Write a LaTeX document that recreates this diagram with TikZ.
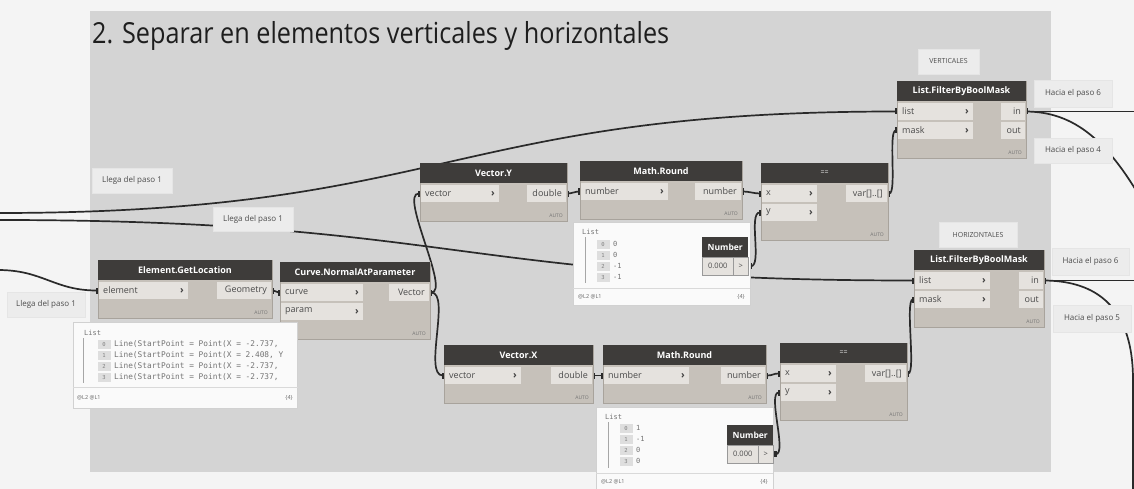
\documentclass[tikz,border=0pt]{standalone}
\usepackage{fontspec}
\setmainfont{Open Sans}
\newfontfamily\titlef[FakeStretch=0.87]{Open Sans}
\newfontfamily\monof{DejaVu Sans Mono}
\usetikzlibrary{arrows.meta}
\definecolor{pagebg}{HTML}{F4F4F4}
\definecolor{groupbg}{HTML}{D4D4D4}
\definecolor{headbg}{HTML}{3E3C3A}
\definecolor{bodybg}{HTML}{C6C1BA}
\definecolor{bodyline}{HTML}{A8A39C}
\definecolor{cellbg}{HTML}{E5E2DE}
\definecolor{notebg}{HTML}{ECECEC}
\definecolor{wirec}{HTML}{2A2A2A}
\definecolor{txt}{HTML}{4A4A4A}
\definecolor{titlec}{HTML}{1E1E1E}
\pgfdeclarelayer{bg}
\pgfdeclarelayer{wires}
\pgfsetlayers{bg,wires,main}
\tikzset{
  dbody/.style={fill=bodybg, draw=bodyline, line width=0.8pt, inner sep=0pt, outer sep=0pt},
  dhead/.style={fill=headbg, text=white, font=\bfseries\fontsize{9}{10}\selectfont, inner sep=0pt, outer sep=0pt, minimum height=20pt},
  pcell/.style={fill=cellbg, inner sep=0pt, outer sep=0pt, minimum height=17pt},
  ptxt/.style={font=\fontsize{9}{10}\selectfont, text=txt, inner xsep=4pt, inner ysep=0pt},
  chev/.style={font=\bfseries\fontsize{10}{10}\selectfont, text=black!75, inner xsep=4pt, inner ysep=0pt},
  autotxt/.style={font=\fontsize{5}{5}\selectfont, text=black!55, inner sep=0pt},
  wire/.style={draw=wirec, line width=1.7pt},
  tabs/.style={{Rectangle[length=3pt,width=6pt]}-{Rectangle[length=3pt,width=6pt]}},
  tabend/.style={-{Rectangle[length=3pt,width=6pt]}},
  tabstart/.style={{Rectangle[length=3pt,width=6pt]}-},
  note/.style={fill=notebg, draw=black!10, inner sep=0pt, font=\fontsize{8}{9}\selectfont, text=black!70},
  prev/.style={fill=white!98!black, draw=black!18, line width=0.5pt, inner sep=0pt},
  pidx/.style={fill=black!13, font=\monof\fontsize{5.5}{6}\selectfont, text=black!50, minimum width=13pt, minimum height=9pt, inner sep=0pt},
  pval/.style={font=\monof\fontsize{7}{8}\selectfont, text=black!55, inner sep=0pt},
  pfoot/.style={font=\fontsize{5.5}{6}\selectfont, text=black!60, inner sep=0pt},
  numhead/.style={fill=headbg, text=white, font=\bfseries\fontsize{8.5}{9}\selectfont, inner sep=0pt, minimum height=20pt},
  numval/.style={fill=cellbg, draw=black!40, line width=0.5pt, font=\fontsize{7.5}{8}\selectfont, text=txt, inner sep=0pt, minimum height=18pt},
}
% #1 name #2 x #3 y #4 width #5 in-cell width #6 out-cell width #7 title #8 inputs #9 outputs
\newcommand{\dyn}[9]{%
  \foreach \q [count=\n] in {#8} {\xdef\dynrows{\n}}%
  \pgfmathsetmacro{\dynh}{20+\dynrows*19+19}%
  \node[dbody, minimum width=#4pt, minimum height=\dynh pt, anchor=north west] (#1) at (#2,#3) {};
  \node[dhead, minimum width=#4pt, anchor=north west] (#1-h) at (#2,#3) {#7};
  \foreach \lab [count=\k from 0] in {#8} {%
    \node[pcell, minimum width=#5pt, anchor=north west] (#1-i\k) at (#2+1,#3+22+19*\k) {};
    \node[ptxt, anchor=west] (#1-il\k) at (#1-i\k.west) {\lab};
    \node[chev, anchor=east] (#1-ic\k) at (#1-i\k.east) {\char"203A};
  }
  \foreach \lab [count=\k from 0] in {#9} {%
    \node[pcell, minimum width=#6pt, anchor=north east] (#1-o\k) at (#2+#4-1,#3+22+19*\k) {};
    \node[ptxt, anchor=east] (#1-ol\k) at (#1-o\k.east) {\lab};
  }
  \node[autotxt, anchor=south east] (#1-auto) at ([xshift=-4pt,yshift=3pt]#1.south east) {AUTO};
}
\begin{document}
\begin{tikzpicture}[x=1pt,y=-1pt]
\useasboundingbox (0,0) rectangle (1134,489);
\clip (0,0) rectangle (1134,489);
\begin{pgfonlayer}{bg}
\fill[pagebg] (0,0) rectangle (1134,489);
\fill[groupbg] (90,11) rectangle (1051,472);
\end{pgfonlayer}
\node[anchor=base west, font=\titlef\fontsize{29}{32}\selectfont, text=titlec, inner sep=0pt] (title) at (92,44) {2. Separar en elementos verticales y horizontales};

% free ends
\coordinate (la) at (-2,213);
\coordinate (lb) at (-2,220);
\coordinate (lc) at (-2,270);
\coordinate (r1) at (1140,111.5);
\coordinate (r2) at (1150,215);
\coordinate (r3) at (1140,280.5);
\coordinate (r4) at (1133,495);

% Dynamo nodes
\dyn{eg}{98}{260}{174}{89}{54}{Element.GetLocation}{element}{Geometry}
\dyn{cn}{280}{262}{150}{82}{40}{Curve.NormalAtParameter}{curve,param}{Vector}
\dyn{vy}{420}{163}{147}{78}{39}{Vector.Y}{vector}{double}
\dyn{mr1}{580}{161}{162}{87}{46}{Math.Round}{number}{number}
\dyn{eq1}{761}{163}{127}{55}{41}{\mdseries\fontsize{7}{7}\selectfont ==}{x,y}{{var[]..[]}}
\dyn{fb1}{897}{81}{129}{75}{24}{List.FilterByBoolMask}{list,mask}{in,out}
\dyn{vx}{444}{345}{149}{76}{41}{Vector.X}{vector}{double}
\dyn{mr2}{603}{345}{163}{85}{44}{Math.Round}{number}{number}
\dyn{eq2}{780}{343}{127}{55}{41}{\mdseries\fontsize{7}{7}\selectfont ==}{x,y}{{var[]..[]}}
\dyn{fb2}{914}{250}{130}{75}{24}{List.FilterByBoolMask}{list,mask}{in,out}

% notes
\node[note, minimum width=80pt, minimum height=25pt] (n1) at (132,180.5) {Llega del paso 1};
\node[note, minimum width=80pt, minimum height=24pt] (n2) at (253,219) {Llega del paso 1};
\node[note, minimum width=78pt, minimum height=25pt] (n3) at (46,304.5) {Llega del paso 1};
\node[note, minimum width=61pt, minimum height=25pt, font=\fontsize{7}{8}\selectfont] (nv) at (948.5,61.5) {VERTICALES};
\node[note, minimum width=78pt, minimum height=25pt, font=\fontsize{7}{8}\selectfont] (nh) at (978,234.5) {HORIZONTALES};
\node[note, minimum width=78pt, minimum height=27pt] (h6a) at (1073,93.5) {Hacia el paso 6};
\node[note, minimum width=78pt, minimum height=25pt] (h4) at (1073,150.5) {Hacia el paso 4};
\node[note, minimum width=77pt, minimum height=27pt] (h6b) at (1090.5,261.5) {Hacia el paso 6};
\node[note, minimum width=78pt, minimum height=27pt] (h5) at (1092,318.5) {Hacia el paso 5};

% preview of Element.GetLocation
\node[prev, minimum width=224pt, minimum height=86pt, anchor=north west] (pv1) at (73,322) {};
\begin{scope}
\clip (73,322) rectangle (296,387);
\node[pval, anchor=west] (pv1-l) at (84,333) {List};
\draw[black!35, line width=0.5pt] (83,338) -- (83,383);
\foreach \t [count=\k from 0] in {{Line(StartPoint = Point(X = -2.737,},{Line(StartPoint = Point(X = 2.408, Y},{Line(StartPoint = Point(X = -2.737,},{Line(StartPoint = Point(X = -2.737,}} {
  \node[pidx] (pv1-i\k) at (104,344+11*\k) {\k};
  \node[pval, anchor=west, font=\monof\fontsize{7.8}{8}\selectfont] (pv1-v\k) at (114,344+11*\k) {\t};
}
\end{scope}
\draw[black!15, line width=0.5pt] (pv1.west |- 0,387) -- (pv1.east |- 0,387);
\node[pfoot, anchor=west] (pv1-f) at (77,398) {@L2 @L1};
\node[pfoot, anchor=east] (pv1-c) at (293,398) {\{4\}};

% preview of top Math.Round
\node[prev, minimum width=177pt, minimum height=83pt, anchor=north west] (pv2) at (573,222) {};
\node[pval, anchor=west] (pv2-l) at (582,232) {List};
\draw[black!35, line width=0.5pt] (585,237) -- (585,283);
\foreach \v [count=\k from 0] in {0,0,-1,-1} {
  \node[pidx] (pv2-i\k) at (603,244+11*\k) {\k};
  \node[pval, anchor=west] (pv2-v\k) at (613,244+11*\k) {\v};
}
\draw[black!15, line width=0.5pt] (573,288) -- (750,288);
\node[pfoot, anchor=west] (pv2-f) at (578,297) {@L2 @L1};
\node[pfoot, anchor=east] (pv2-c) at (745,297) {\{4\}};

% preview of bottom Math.Round
\node[prev, minimum width=177pt, minimum height=90pt, anchor=north west] (pv3) at (596,407) {};
\node[pval, anchor=west] (pv3-l) at (605,417) {List};
\draw[black!35, line width=0.5pt] (608,422) -- (608,468);
\foreach \v [count=\k from 0] in {1,-1,0,0} {
  \node[pidx] (pv3-i\k) at (626,428+11*\k) {\k};
  \node[pval, anchor=west] (pv3-v\k) at (636,428+11*\k) {\v};
}
\draw[black!15, line width=0.5pt] (596,473) -- (773,473);
\node[pfoot, anchor=west] (pv3-f) at (601,482) {@L2 @L1};
\node[pfoot, anchor=east] (pv3-c) at (768,482) {\{4\}};

% Number nodes
\node[numhead, minimum width=46pt, anchor=north west] (num1) at (702,237) {Number};
\node[numval, minimum width=31pt, anchor=north west] (num1-v) at (702,257) {0.000};
\node[numval, minimum width=15pt, anchor=north west] (num1-o) at (733,257) {>};
\node[numhead, minimum width=46pt, anchor=north west] (num2) at (727,425) {Number};
\node[numval, minimum width=31pt, anchor=north west] (num2-v) at (727,445) {0.000};
\node[numval, minimum width=15pt, anchor=north west] (num2-o) at (758,445) {>};

% wires
\begin{pgfonlayer}{wires}
\draw[wire, tabend] (la) to[out=0,in=180,distance=450pt] (fb1-i0.west);
\draw[wire, tabend] (lb) to[out=0,in=180,distance=457pt] (fb2-i0.west);
\draw[wire, tabend] (lc) to[out=0,in=180,distance=45pt] (eg-i0.west);
\draw[wire, tabs] (eg-o0.east) to[out=0,in=180,distance=4pt] (cn-i0.west);
\draw[wire, tabs] (cn-o0.east) to[out=0,in=180,distance=22pt] (vy-i0.west);
\draw[wire, tabs] (cn-o0.east) to[out=0,in=180,distance=22pt] (vx-i0.west);
\draw[wire, tabs] (vy-o0.east) to[out=0,in=180,distance=5pt] (mr1-i0.west);
\draw[wire, tabs] (mr1-o0.east) to[out=0,in=180,distance=8pt] (eq1-i0.west);
\draw[wire, tabs] (num1-o.east) to[out=0,in=180,distance=14pt] (eq1-i1.west);
\draw[wire, tabs] (eq1-o0.east) to[out=0,in=180,distance=10pt] (fb1-i1.west);
\draw[wire, tabs] (vx-o0.east) to[out=0,in=180,distance=5pt] (mr2-i0.west);
\draw[wire, tabs] (mr2-o0.east) to[out=0,in=180,distance=8pt] (eq2-i0.west);
\draw[wire, tabs] (num2-o.east) to[out=0,in=180,distance=14pt] (eq2-i1.west);
\draw[wire, tabs] (eq2-o0.east) to[out=0,in=180,distance=10pt] (fb2-i1.west);
\draw[wire, tabstart] (fb1-o0.east) -- (r1);
\draw[wire] (fb1-o0.east) .. controls +(49,0) and (1110,140) .. (r2);
\draw[wire, tabstart] (fb2-o0.east) -- (r3);
\draw[wire] (fb2-o0.east) .. controls +(46,0) and (1133,300) .. (1133,380) -- (r4);
\end{pgfonlayer}
\end{tikzpicture}
\end{document}
